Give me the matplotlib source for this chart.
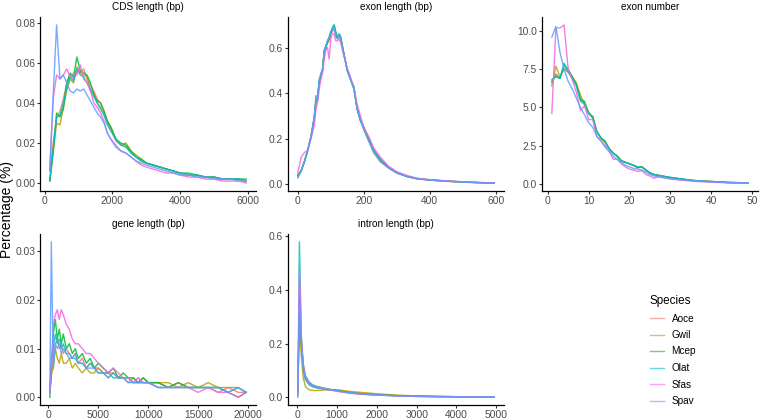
import matplotlib
matplotlib.use("Agg")
import matplotlib.pyplot as plt

plt.rcParams["font.family"] = ["Liberation Sans", "DejaVu Sans"]

species = ["Aoce", "Gwil", "Mcep", "Olat", "Sfas", "Spav"]
colors = ["#F8766D", "#B79F00", "#00BA38", "#00BFC4", "#F564E3", "#619CFF"]

# CDS length (bp)
cds_x = [150, 250, 350, 450, 550, 650, 750, 850, 950, 1050, 1150, 1250, 1350, 1450, 1550,
         1650, 1750, 1850, 1950, 2100, 2250, 2400, 2550, 2700, 2850, 3000, 3200, 3400, 3600,
         3800, 4000, 4250, 4500, 4750, 5000, 5250, 5500, 5750, 5950]
cds_aoce = [0.006, 0.020, 0.032, 0.036, 0.042, 0.050, 0.054, 0.052, 0.056, 0.055, 0.057, 0.052, 0.049,
            0.046, 0.042, 0.040, 0.036, 0.030, 0.027, 0.021, 0.019, 0.018, 0.015, 0.013, 0.011, 0.010,
            0.009, 0.008, 0.007, 0.006, 0.005, 0.004, 0.004, 0.003, 0.003, 0.002, 0.002, 0.002, 0.001]
cds_gwil = [0.001, 0.015, 0.030, 0.029, 0.038, 0.046, 0.052, 0.050, 0.058, 0.055, 0.054, 0.053, 0.046,
            0.045, 0.040, 0.038, 0.034, 0.031, 0.028, 0.022, 0.019, 0.020, 0.016, 0.014, 0.012, 0.010,
            0.009, 0.008, 0.007, 0.006, 0.005, 0.004, 0.004, 0.003, 0.003, 0.002, 0.002, 0.002, 0.001]
cds_mcep = [0.001, 0.016, 0.035, 0.033, 0.037, 0.050, 0.055, 0.053, 0.063, 0.056, 0.055, 0.054, 0.050,
            0.044, 0.041, 0.040, 0.036, 0.031, 0.028, 0.022, 0.020, 0.019, 0.016, 0.013, 0.012, 0.010,
            0.009, 0.008, 0.007, 0.006, 0.005, 0.005, 0.004, 0.003, 0.003, 0.002, 0.002, 0.002, 0.002]
cds_olat = [0.002, 0.017, 0.033, 0.034, 0.040, 0.048, 0.053, 0.051, 0.057, 0.054, 0.053, 0.050, 0.047,
            0.043, 0.040, 0.037, 0.034, 0.029, 0.026, 0.022, 0.019, 0.018, 0.015, 0.013, 0.011, 0.010,
            0.009, 0.008, 0.007, 0.006, 0.005, 0.004, 0.004, 0.003, 0.003, 0.002, 0.002, 0.002, 0.001]
cds_sfas = [0.008, 0.042, 0.054, 0.052, 0.054, 0.057, 0.053, 0.055, 0.054, 0.059, 0.052, 0.050, 0.046,
            0.040, 0.038, 0.035, 0.031, 0.025, 0.022, 0.019, 0.016, 0.015, 0.013, 0.011, 0.009, 0.008,
            0.007, 0.006, 0.005, 0.005, 0.004, 0.003, 0.003, 0.002, 0.002, 0.001, 0.001, 0.001, 0.000]
cds_spav = [0.006, 0.044, 0.079, 0.052, 0.054, 0.050, 0.046, 0.045, 0.047, 0.046, 0.047, 0.044, 0.041,
            0.038, 0.035, 0.033, 0.030, 0.025, 0.022, 0.018, 0.016, 0.015, 0.013, 0.011, 0.010, 0.009,
            0.008, 0.007, 0.006, 0.005, 0.004, 0.004, 0.003, 0.003, 0.002, 0.002, 0.002, 0.001, 0.001]

# exon length (bp)
exl_x = [0, 10, 20, 30, 40, 50, 55, 60, 65, 70, 75, 80, 85, 90, 95, 100, 105, 110, 115, 120, 125,
         130, 140, 150, 160, 170, 180, 190, 200, 215, 230, 250, 275, 300, 330, 360, 400, 450, 500,
         550, 595]
exl_aoce = [0.04, 0.06, 0.10, 0.15, 0.21, 0.29, 0.37, 0.38, 0.45, 0.48, 0.50, 0.58, 0.60, 0.62, 0.63,
            0.66, 0.67, 0.69, 0.66, 0.64, 0.65, 0.64, 0.57, 0.50, 0.46, 0.42, 0.33, 0.28, 0.25, 0.20,
            0.15, 0.11, 0.075, 0.052, 0.036, 0.026, 0.020, 0.015, 0.011, 0.008, 0.006]
exl_gwil = [0.04, 0.06, 0.10, 0.15, 0.21, 0.29, 0.36, 0.38, 0.45, 0.48, 0.50, 0.58, 0.61, 0.62, 0.64,
            0.66, 0.68, 0.69, 0.66, 0.64, 0.66, 0.64, 0.57, 0.50, 0.46, 0.42, 0.33, 0.28, 0.24, 0.19,
            0.14, 0.10, 0.072, 0.050, 0.035, 0.025, 0.019, 0.014, 0.010, 0.008, 0.006]
exl_mcep = [0.04, 0.06, 0.10, 0.15, 0.21, 0.29, 0.37, 0.39, 0.45, 0.48, 0.51, 0.58, 0.60, 0.63, 0.64,
            0.67, 0.68, 0.70, 0.67, 0.64, 0.66, 0.65, 0.57, 0.50, 0.46, 0.43, 0.33, 0.28, 0.25, 0.20,
            0.15, 0.11, 0.075, 0.052, 0.036, 0.026, 0.020, 0.015, 0.011, 0.008, 0.006]
exl_olat = [0.03, 0.06, 0.10, 0.15, 0.21, 0.30, 0.38, 0.38, 0.46, 0.48, 0.50, 0.59, 0.60, 0.63, 0.64,
            0.67, 0.69, 0.70, 0.66, 0.65, 0.66, 0.64, 0.57, 0.50, 0.46, 0.42, 0.33, 0.28, 0.25, 0.20,
            0.15, 0.11, 0.074, 0.051, 0.035, 0.026, 0.020, 0.015, 0.011, 0.008, 0.006]
exl_sfas = [0.05, 0.12, 0.14, 0.15, 0.20, 0.26, 0.33, 0.36, 0.42, 0.46, 0.49, 0.55, 0.59, 0.60, 0.55,
            0.64, 0.66, 0.66, 0.63, 0.63, 0.64, 0.62, 0.56, 0.51, 0.47, 0.42, 0.35, 0.30, 0.25, 0.21,
            0.16, 0.12, 0.080, 0.056, 0.040, 0.028, 0.021, 0.016, 0.012, 0.009, 0.007]
exl_spav = [0.03, 0.06, 0.10, 0.15, 0.21, 0.30, 0.39, 0.37, 0.46, 0.49, 0.50, 0.59, 0.61, 0.63, 0.65,
            0.67, 0.68, 0.69, 0.65, 0.64, 0.66, 0.64, 0.57, 0.50, 0.46, 0.42, 0.33, 0.28, 0.24, 0.19,
            0.14, 0.10, 0.072, 0.050, 0.035, 0.025, 0.019, 0.014, 0.010, 0.008, 0.006]

# exon number
exn_x = list(range(1, 31)) + [32, 34, 36, 38, 40, 42, 44, 46, 48, 49]
exn_aoce = [6.6, 7.2, 6.9, 7.6, 7.4, 7.0, 6.5, 5.6, 5.2, 4.6, 4.4, 3.4, 3.0, 2.7, 2.3, 2.0, 1.8, 1.5,
            1.4, 1.3, 1.2, 1.05, 1.1, 0.9, 0.7, 0.6, 0.55, 0.5, 0.45, 0.4, 0.33, 0.26, 0.2, 0.17, 0.14,
            0.12, 0.08, 0.07, 0.06, 0.06]
exn_gwil = [6.4, 7.7, 7.0, 7.5, 7.3, 7.0, 6.6, 5.8, 5.2, 4.7, 4.3, 3.4, 3.0, 2.7, 2.3, 2.0, 1.8, 1.5,
            1.4, 1.3, 1.2, 1.05, 1.1, 0.9, 0.7, 0.6, 0.55, 0.5, 0.45, 0.4, 0.33, 0.26, 0.2, 0.17, 0.14,
            0.12, 0.08, 0.07, 0.06, 0.06]
exn_mcep = [6.8, 7.0, 6.9, 7.8, 7.5, 7.0, 6.5, 5.5, 5.4, 4.6, 4.4, 3.4, 3.0, 2.8, 2.3, 2.0, 1.8, 1.5,
            1.4, 1.3, 1.2, 1.05, 1.1, 0.9, 0.7, 0.6, 0.55, 0.5, 0.45, 0.4, 0.33, 0.26, 0.2, 0.17, 0.14,
            0.12, 0.08, 0.07, 0.06, 0.06]
exn_olat = [6.7, 7.1, 6.9, 7.9, 7.3, 6.9, 6.4, 5.4, 5.2, 4.6, 4.3, 3.4, 3.0, 2.8, 2.3, 2.0, 1.8, 1.5,
            1.4, 1.3, 1.2, 1.1, 1.1, 0.9, 0.7, 0.6, 0.55, 0.5, 0.45, 0.42, 0.34, 0.27, 0.21, 0.17, 0.15,
            0.12, 0.09, 0.07, 0.06, 0.06]
exn_sfas = [4.6, 10.2, 10.2, 10.4, 7.5, 6.8, 6.0, 4.8, 5.1, 4.2, 4.2, 3.1, 2.8, 2.5, 2.2, 1.6, 1.6,
            1.3, 1.1, 0.95, 0.9, 0.8, 0.85, 0.6, 0.5, 0.35, 0.45, 0.4, 0.35, 0.3, 0.25, 0.2, 0.15,
            0.12, 0.1, 0.08, 0.06, 0.05, 0.04, 0.04]
exn_spav = [9.6, 10.3, 8.6, 7.5, 6.7, 6.2, 5.6, 5.0, 4.5, 4.0, 3.7, 3.1, 2.8, 2.4, 2.1, 1.8, 1.6, 1.4,
            1.2, 1.1, 1.0, 0.95, 0.9, 0.75, 0.6, 0.5, 0.45, 0.42, 0.38, 0.34, 0.28, 0.22, 0.18, 0.15,
            0.12, 0.1, 0.07, 0.06, 0.05, 0.05]

# gene length (bp)
gen_x = [150, 300, 500, 700, 900, 1100, 1300, 1500, 1800, 2100, 2400, 2700, 3000, 3400, 3800, 4200,
         4600, 5000, 5500, 6000, 6500, 7000, 7500, 8000, 8500, 9000, 9500, 10000, 11000, 12000, 13000,
         14000, 15000, 16000, 17000, 18000, 19000, 19800]
gen_aoce = [0.001, 0.004, 0.008, 0.011, 0.012, 0.010, 0.011, 0.009, 0.010, 0.009, 0.008, 0.009, 0.007,
            0.008, 0.006, 0.007, 0.006, 0.006, 0.005, 0.005, 0.005, 0.004, 0.004, 0.004, 0.003, 0.004,
            0.003, 0.003, 0.003, 0.002, 0.003, 0.002, 0.002, 0.002, 0.001, 0.002, 0.001, 0.001]
gen_gwil = [0.001, 0.005, 0.006, 0.010, 0.008, 0.007, 0.009, 0.007, 0.007, 0.008, 0.006, 0.007, 0.006,
            0.005, 0.006, 0.005, 0.005, 0.006, 0.005, 0.004, 0.005, 0.004, 0.004, 0.003, 0.004, 0.003,
            0.004, 0.003, 0.003, 0.003, 0.002, 0.003, 0.002, 0.003, 0.002, 0.002, 0.002, 0.001]
gen_mcep = [0.000, 0.006, 0.013, 0.016, 0.012, 0.014, 0.011, 0.013, 0.010, 0.011, 0.009, 0.010, 0.008,
            0.009, 0.007, 0.008, 0.006, 0.007, 0.006, 0.005, 0.006, 0.004, 0.005, 0.004, 0.004, 0.003,
            0.004, 0.003, 0.003, 0.002, 0.003, 0.002, 0.002, 0.002, 0.002, 0.001, 0.000, 0.001]
gen_olat = [0.001, 0.008, 0.010, 0.013, 0.011, 0.012, 0.010, 0.011, 0.009, 0.009, 0.008, 0.008, 0.007,
            0.007, 0.006, 0.007, 0.006, 0.005, 0.005, 0.005, 0.004, 0.004, 0.004, 0.004, 0.003, 0.003,
            0.003, 0.003, 0.002, 0.002, 0.002, 0.002, 0.002, 0.002, 0.002, 0.001, 0.002, 0.001]
gen_sfas = [0.001, 0.006, 0.015, 0.017, 0.018, 0.016, 0.018, 0.017, 0.015, 0.014, 0.012, 0.011, 0.011,
            0.010, 0.009, 0.009, 0.008, 0.007, 0.006, 0.005, 0.006, 0.005, 0.004, 0.004, 0.003, 0.004,
            0.003, 0.003, 0.002, 0.002, 0.002, 0.002, 0.001, 0.002, 0.001, 0.001, 0.000, 0.001]
gen_spav = [0.001, 0.032, 0.006, 0.011, 0.010, 0.011, 0.009, 0.010, 0.009, 0.008, 0.008, 0.009, 0.007,
            0.007, 0.006, 0.006, 0.006, 0.005, 0.005, 0.004, 0.005, 0.004, 0.004, 0.003, 0.003, 0.003,
            0.003, 0.003, 0.002, 0.002, 0.002, 0.002, 0.002, 0.002, 0.002, 0.001, 0.002, 0.001]

# intron length (bp)
int_x = [10, 50, 100, 150, 200, 300, 400, 500, 700, 1000, 1300, 1600, 2000, 2500, 3000, 3500, 4000,
         4500, 4950]
int_aoce = [0.02, 0.29, 0.18, 0.10, 0.07, 0.05, 0.04, 0.035, 0.030, 0.025, 0.018, 0.014, 0.010, 0.006,
            0.004, 0.003, 0.002, 0.0015, 0.001]
int_gwil = [0.02, 0.28, 0.15, 0.07, 0.04, 0.027, 0.025, 0.025, 0.027, 0.028, 0.022, 0.018, 0.013, 0.008,
            0.005, 0.003, 0.002, 0.0015, 0.001]
int_mcep = [0.01, 0.36, 0.20, 0.12, 0.08, 0.055, 0.045, 0.040, 0.033, 0.025, 0.018, 0.013, 0.009, 0.006,
            0.004, 0.003, 0.002, 0.0015, 0.001]
int_olat = [0.00, 0.58, 0.22, 0.10, 0.065, 0.045, 0.038, 0.034, 0.030, 0.024, 0.017, 0.012, 0.008, 0.005,
            0.003, 0.002, 0.0015, 0.001, 0.001]
int_sfas = [0.01, 0.48, 0.22, 0.12, 0.08, 0.055, 0.043, 0.037, 0.030, 0.022, 0.015, 0.011, 0.008, 0.005,
            0.003, 0.002, 0.0015, 0.001, 0.0005]
int_spav = [0.03, 0.38, 0.21, 0.11, 0.075, 0.05, 0.042, 0.037, 0.031, 0.024, 0.017, 0.012, 0.009, 0.005,
            0.003, 0.002, 0.0015, 0.001, 0.001]

panels = [
    ("CDS length (bp)", cds_x, [cds_aoce, cds_gwil, cds_mcep, cds_olat, cds_sfas, cds_spav],
     [0, 2000, 4000, 6000], [0.0, 0.02, 0.04, 0.06, 0.08], "{:.2f}"),
    ("exon length (bp)", exl_x, [exl_aoce, exl_gwil, exl_mcep, exl_olat, exl_sfas, exl_spav],
     [0, 200, 400, 600], [0.0, 0.2, 0.4, 0.6], "{:.1f}"),
    ("exon number", exn_x, [exn_aoce, exn_gwil, exn_mcep, exn_olat, exn_sfas, exn_spav],
     [0, 10, 20, 30, 40, 50], [0.0, 2.5, 5.0, 7.5, 10.0], "{:.1f}"),
    ("gene length (bp)", gen_x, [gen_aoce, gen_gwil, gen_mcep, gen_olat, gen_sfas, gen_spav],
     [0, 5000, 10000, 15000, 20000], [0.0, 0.01, 0.02, 0.03], "{:.2f}"),
    ("intron length (bp)", int_x, [int_aoce, int_gwil, int_mcep, int_olat, int_sfas, int_spav],
     [0, 1000, 2000, 3000, 4000, 5000], [0.0, 0.2, 0.4, 0.6], "{:.1f}"),
]

W, H = 760, 420
fig = plt.figure(figsize=(W / 100, H / 100), dpi=100)

lefts = [40, 288, 542]
bottoms = [191, 405]
heights = [174, 171]
pw = 216

for i, (title, xs, ys, xt, yt, fmt) in enumerate(panels):
    col, row = i % 3, i // 3
    ax = fig.add_axes([lefts[col] / W, 1 - bottoms[row] / H, pw / W, heights[row] / H])
    for name, c, y in zip(species, colors, ys):
        ax.plot(xs, y, color=c, lw=1.0, alpha=0.85, label=name)
    ax.set_xticks(xt)
    ax.set_yticks(yt)
    ax.set_yticklabels([fmt.format(v) for v in yt])
    ax.margins(0.05)
    for s in ["top", "right"]:
        ax.spines[s].set_visible(False)
    for s in ["left", "bottom"]:
        ax.spines[s].set_linewidth(0.9)
    ax.tick_params(labelsize=7.4, labelcolor="#4D4D4D", color="#333333", length=2.5, width=0.8, pad=1.0)
    ax.set_title(title, fontsize=7.2, pad=5)
    if i == 0:
        handles, labels = ax.get_legend_handles_labels()

fig.text(7 / W, 0.5, "Percentage (%)", rotation=90, va="center", ha="center", fontsize=10)

leg = fig.legend(handles, labels, title="Species", loc="upper left",
                 bbox_to_anchor=(646 / W, 1 - 291 / H), frameon=False, fontsize=7.2,
                 title_fontsize=8.4, handlelength=1.4, labelspacing=0.65, handletextpad=0.75,
                 borderaxespad=0)
leg._legend_box.align = "left"
for l in leg.get_lines():
    l.set_alpha(0.6)

fig.savefig("out.png", dpi=100)
